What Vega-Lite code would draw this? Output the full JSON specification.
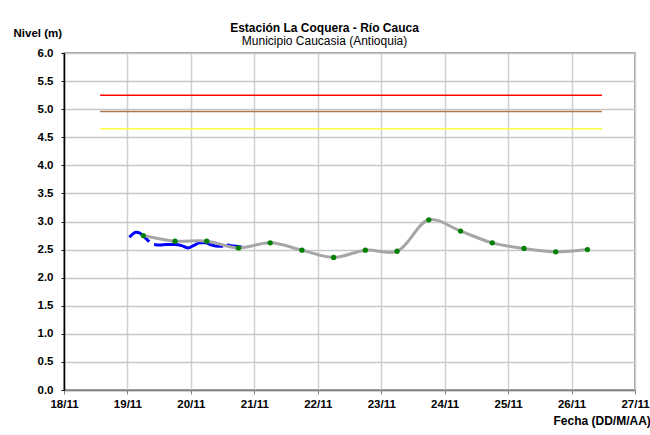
{
  "$schema": "https://vega.github.io/schema/vega-lite/v6.json",
  "width": 571,
  "height": 337,
  "autosize": {"type": "none"},
  "padding": {"left": 64, "top": 53, "right": 15, "bottom": 45},
  "background": "white",
  "config": {
    "font": "Liberation Sans",
    "view": {"stroke": "#808080", "strokeWidth": 1.5}
  },
  "title": {
    "text": "Estación La Coquera - Río Cauca",
    "subtitle": "Municipio Caucasia (Antioquia)",
    "anchor": "middle",
    "dx": -25,
    "offset": -21,
    "fontSize": 12,
    "fontWeight": "bold",
    "color": "black",
    "subtitleFontSize": 12,
    "subtitleColor": "black",
    "subtitlePadding": 1
  },
  "datasets": {
    "umbrales": [
      {"t": "2010-11-18T13:40", "v": 5.25, "serie": "rojo"},
      {"t": "2010-11-26T11:30", "v": 5.25, "serie": "rojo"},
      {"t": "2010-11-18T13:40", "v": 4.96, "serie": "naranja"},
      {"t": "2010-11-26T11:30", "v": 4.96, "serie": "naranja"},
      {"t": "2010-11-18T13:40", "v": 4.65, "serie": "amarillo"},
      {"t": "2010-11-26T11:30", "v": 4.65, "serie": "amarillo"}
    ],
    "observado": [
      {"t": "2010-11-19T00:45", "v": 2.72, "seg": 1},
      {"t": "2010-11-19T03:15", "v": 2.81, "seg": 1},
      {"t": "2010-11-19T04:50", "v": 2.79, "seg": 1},
      {"t": "2010-11-19T06:15", "v": 2.73, "seg": 1},
      {"t": "2010-11-19T08:15", "v": 2.64, "seg": 1},
      {"t": "2010-11-19T10:05", "v": 2.59, "seg": 2},
      {"t": "2010-11-19T12:15", "v": 2.58, "seg": 2},
      {"t": "2010-11-19T14:50", "v": 2.59, "seg": 2},
      {"t": "2010-11-19T18:00", "v": 2.59, "seg": 2},
      {"t": "2010-11-19T20:30", "v": 2.57, "seg": 2},
      {"t": "2010-11-19T22:50", "v": 2.53, "seg": 2},
      {"t": "2010-11-20T01:00", "v": 2.57, "seg": 2},
      {"t": "2010-11-20T03:20", "v": 2.62, "seg": 2},
      {"t": "2010-11-20T05:30", "v": 2.62, "seg": 2},
      {"t": "2010-11-20T07:55", "v": 2.58, "seg": 2},
      {"t": "2010-11-20T10:20", "v": 2.56, "seg": 2},
      {"t": "2010-11-20T12:10", "v": 2.56, "seg": 2},
      {"t": "2010-11-20T13:30", "v": 2.58, "seg": 3},
      {"t": "2010-11-20T15:10", "v": 2.57, "seg": 3},
      {"t": "2010-11-20T17:15", "v": 2.56, "seg": 3},
      {"t": "2010-11-20T19:30", "v": 2.54, "seg": 3}
    ],
    "pronostico": [
      {"t": "2010-11-19T06:00", "v": 2.75},
      {"t": "2010-11-19T18:00", "v": 2.65},
      {"t": "2010-11-20T06:00", "v": 2.65},
      {"t": "2010-11-20T18:00", "v": 2.53},
      {"t": "2010-11-21T06:00", "v": 2.62},
      {"t": "2010-11-21T18:00", "v": 2.49},
      {"t": "2010-11-22T06:00", "v": 2.36},
      {"t": "2010-11-22T18:00", "v": 2.49},
      {"t": "2010-11-23T06:00", "v": 2.47},
      {"t": "2010-11-23T18:00", "v": 3.03},
      {"t": "2010-11-24T06:00", "v": 2.83},
      {"t": "2010-11-24T18:00", "v": 2.62},
      {"t": "2010-11-25T06:00", "v": 2.52},
      {"t": "2010-11-25T18:00", "v": 2.46},
      {"t": "2010-11-26T06:00", "v": 2.50}
    ]
  },
  "encoding": {
    "x": {
      "field": "t",
      "type": "temporal",
      "scale": {
        "domain": [
          {"year": 2010, "month": 11, "date": 18},
          {"year": 2010, "month": 11, "date": 27}
        ]
      },
      "axis": {
        "format": "%d/%m",
        "tickCount": {"interval": "day", "step": 1},
        "title": "Fecha (DD/M/AA)",
        "titleAngle": 0,
        "titleAlign": "left",
        "titleBaseline": "middle",
        "titleX": 489,
        "titleY": 30,
        "titleFontSize": 12,
        "titleFontWeight": "bold",
        "titleColor": "black",
        "labelFontSize": 11.5,
        "labelFontWeight": "bold",
        "labelColor": "black",
        "labelPadding": 4,
        "labelFlush": false,
        "labelOverlap": false,
        "tickColor": "#808080",
        "tickSize": 4,
        "domainColor": "#808080",
        "domainWidth": 1.5,
        "grid": true,
        "gridColor": "#d0d0d0",
        "gridWidth": 1.5
      }
    },
    "y": {
      "field": "v",
      "type": "quantitative",
      "scale": {"domain": [0, 6], "nice": false, "zero": true},
      "axis": {
        "values": [0, 0.5, 1, 1.5, 2, 2.5, 3, 3.5, 4, 4.5, 5, 5.5, 6],
        "format": ".1f",
        "title": "Nivel (m)",
        "titleAngle": 0,
        "titleAlign": "left",
        "titleBaseline": "middle",
        "titleX": -51,
        "titleY": -20,
        "titleFontSize": 11.5,
        "titleFontWeight": "bold",
        "titleColor": "black",
        "labelFontSize": 11.5,
        "labelFontWeight": "bold",
        "labelColor": "black",
        "labelPadding": 8,
        "labelFlush": false,
        "tickColor": "black",
        "tickSize": 3,
        "domainColor": "black",
        "domainWidth": 1.5,
        "grid": true,
        "gridColor": "#c8c8c8",
        "gridWidth": 1.5
      }
    }
  },
  "layer": [
    {
      "data": {"name": "umbrales"},
      "mark": {"type": "line", "strokeWidth": 1.5},
      "encoding": {
        "color": {
          "field": "serie",
          "type": "nominal",
          "scale": {"domain": ["rojo", "naranja", "amarillo"], "range": ["#ff0000", "#b07848", "#ffff40"]},
          "legend": null
        }
      }
    },
    {
      "data": {"name": "observado"},
      "mark": {"type": "line", "color": "#0000ff", "strokeWidth": 3, "interpolate": "monotone"},
      "encoding": {"detail": {"field": "seg", "type": "nominal"}}
    },
    {
      "data": {"name": "pronostico"},
      "mark": {"type": "line", "color": "#a6a6a6", "strokeWidth": 3, "interpolate": "catmull-rom"},
      "encoding": {}
    },
    {
      "data": {"name": "pronostico"},
      "mark": {"type": "point", "filled": true, "color": "#008000", "size": 28, "opacity": 1},
      "encoding": {}
    }
  ]
}
